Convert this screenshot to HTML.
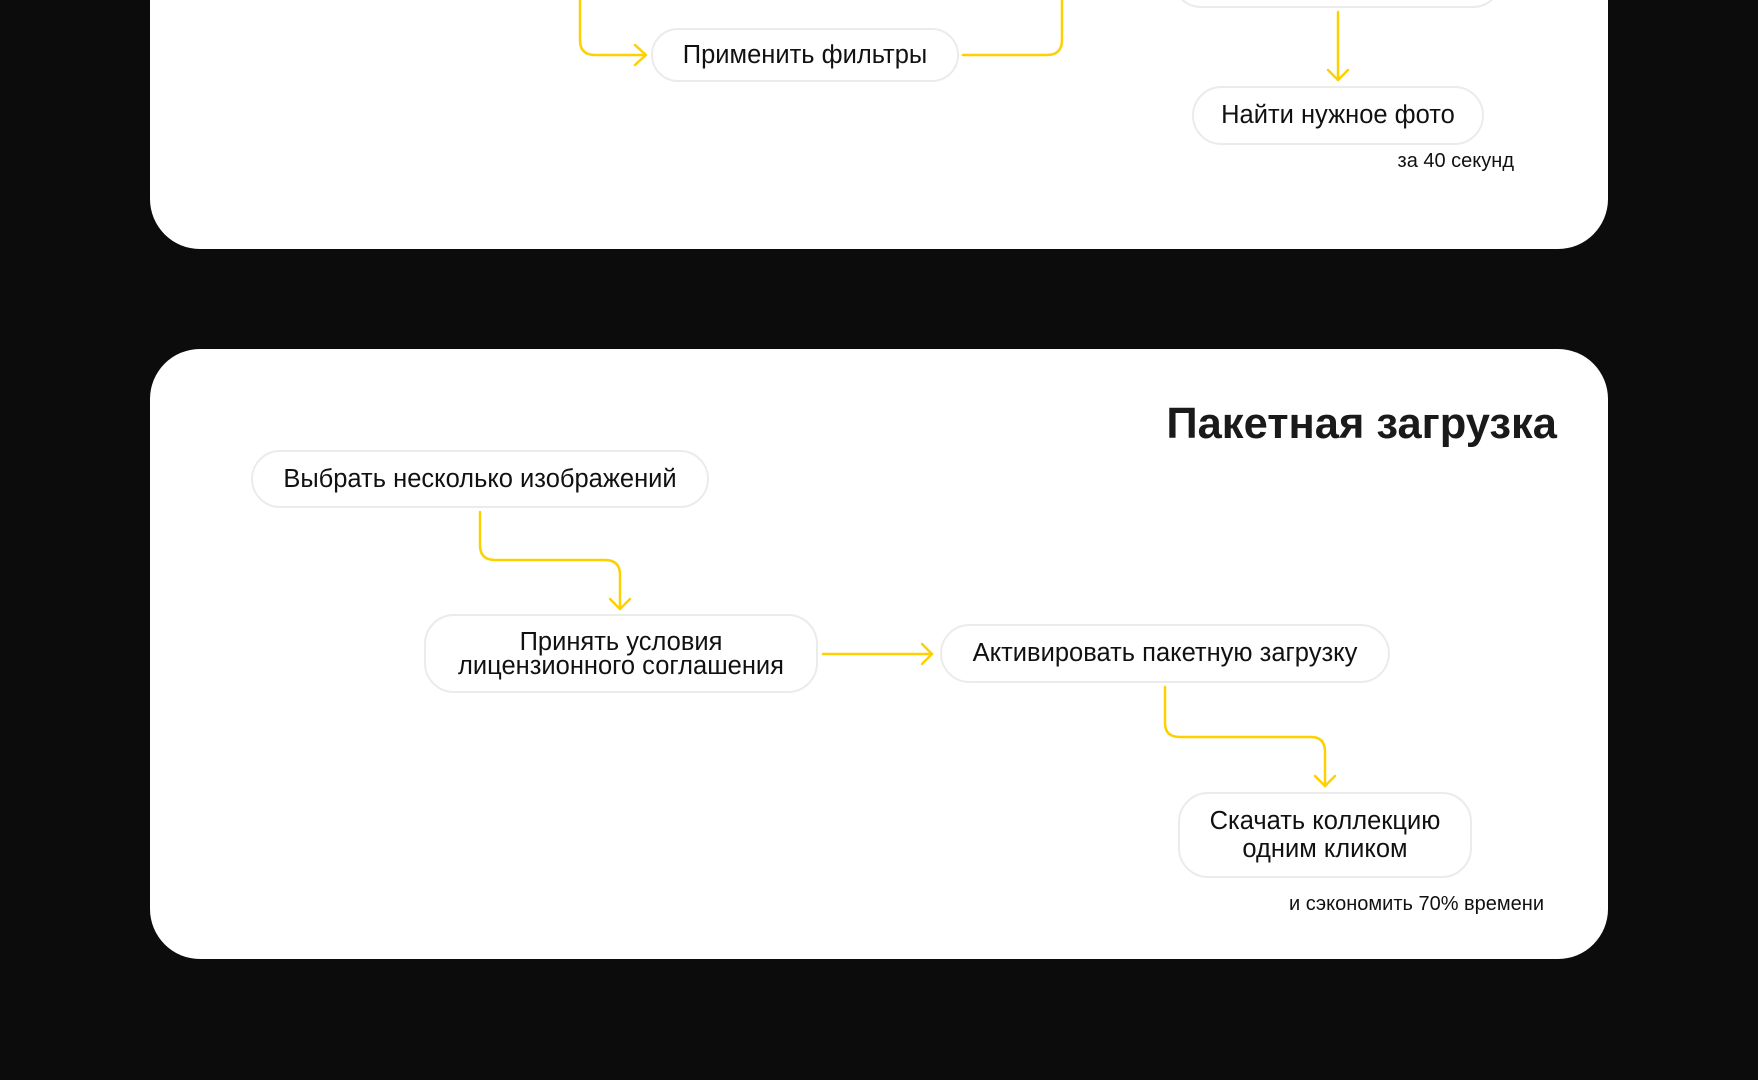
<!DOCTYPE html>
<html><head><meta charset="utf-8"><style>
html,body{margin:0;padding:0}
body{width:1758px;height:1080px;background:#0c0c0c;position:relative;overflow:hidden;font-family:"Liberation Sans","DejaVu Sans",sans-serif;color:#111}
.card{position:absolute;left:150px;width:1458px;background:#fff;border-radius:50px}
.n{position:absolute;box-sizing:border-box;border:2px solid #ebebeb;border-radius:30px;background:#fff;display:flex;align-items:center;justify-content:center;text-align:center;font-size:25.5px;line-height:25px;white-space:nowrap}
.t{position:absolute;font-size:20px;text-align:right;white-space:nowrap}
svg{position:absolute;left:0;top:0}
</style></head><body>
<div class="card" style="top:-60px;height:309px"></div>
<div class="card" style="top:349px;height:610px"></div>

<div class="n" style="left:651px;top:28px;width:308px;height:54px">Применить фильтры</div>
<div class="n" style="left:1172px;top:-50px;width:330px;height:58px"></div>
<div class="n" style="left:1192px;top:86px;width:292px;height:59px">Найти нужное фото</div>
<div class="t" style="right:244px;top:150px">за 40 секунд</div>

<div style="position:absolute;right:201px;top:400px;font-size:43.5px;font-weight:bold;color:#1a1a1a;white-space:nowrap">Пакетная загрузка</div>
<div class="n" style="left:251px;top:450px;width:458px;height:58px">Выбрать несколько изображений</div>
<div class="n" style="left:424px;top:614px;width:394px;height:79px;line-height:24px">Принять условия<br>лицензионного соглашения</div>
<div class="n" style="left:940px;top:624px;width:450px;height:59px">Активировать пакетную загрузку</div>
<div class="n" style="left:1178px;top:792px;width:294px;height:86px;line-height:28px">Скачать коллекцию<br>одним кликом</div>
<div class="t" style="right:214px;top:893px">и сэкономить 70% времени</div>

<svg width="1758" height="1080" fill="none" stroke="#ffd000" stroke-width="2.5" stroke-linecap="round" stroke-linejoin="round">
<path d="M580 0 V40 Q580 55 595 55 H645"/><path d="M635 45 L646 55 L635 65"/>
<path d="M963 55 H1047 Q1062 55 1062 40 V0"/>
<path d="M1338 12 V80"/><path d="M1328 70 L1338 80 L1348 70"/>
<path d="M480 512 V545 Q480 560 495 560 H605 Q620 560 620 575 V609"/><path d="M610 599 L620 609 L630 599"/>
<path d="M823 654 H932"/><path d="M922 644 L932 654 L922 664"/>
<path d="M1165 687 V723 Q1165 737 1180 737 H1311 Q1325 737 1325 752 V786"/><path d="M1315 776 L1325 786 L1335 776"/>
</svg>
</body></html>
